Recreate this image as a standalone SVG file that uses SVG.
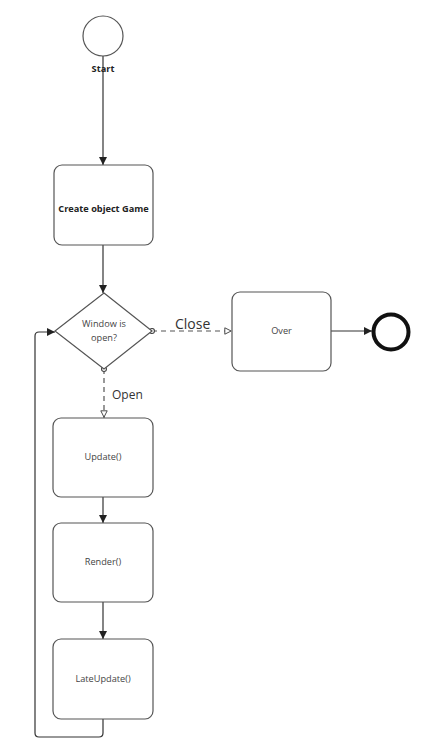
<svg xmlns="http://www.w3.org/2000/svg" width="424" height="756" viewBox="0 0 424 756">
<style>
.box{fill:#fff;stroke:#555;stroke-width:1.2}
.t{font-family:"Open Sans","Noto Sans",sans-serif;font-size:9.2px;fill:#444;text-anchor:middle}
.b{font-weight:bold;fill:#222}
.ln{fill:none;stroke:#333;stroke-width:1.2}
.dash{fill:none;stroke:#555;stroke-width:1.2;stroke-dasharray:5,4}
.lbl{font-family:"Open Sans","Noto Sans",sans-serif;fill:#333}
</style>
<defs>
<marker id="arr" viewBox="0 0 10 10" refX="10" refY="5" markerWidth="8" markerHeight="8" orient="auto" markerUnits="userSpaceOnUse"><path d="M0,0 L10,5 L0,10 Z" fill="#222"/></marker>
<marker id="open" viewBox="0 0 10 10" refX="10" refY="5" markerWidth="8" markerHeight="8" orient="auto" markerUnits="userSpaceOnUse"><path d="M1,1 L9,5 L1,9 Z" fill="#fff" stroke="#444" stroke-width="1.2"/></marker>
<marker id="dot" viewBox="0 0 10 10" refX="5" refY="5" markerWidth="7" markerHeight="7" orient="auto" markerUnits="userSpaceOnUse"><circle cx="5" cy="5" r="3.5" fill="#fff" stroke="#444" stroke-width="1.6"/></marker>
</defs>
<g id="connectors">
<path class="ln" d="M103,56 V165" marker-end="url(#arr)"/>
<path class="ln" d="M103,245 V293" marker-end="url(#arr)"/>
<path class="dash" d="M152,331 H232" marker-start="url(#dot)" marker-end="url(#open)"/>
<path class="dash" d="M104,369 V418" marker-start="url(#dot)" marker-end="url(#open)"/>
<path class="ln" d="M331,331 H372" marker-end="url(#arr)"/>
<path class="ln" d="M103,497 V523" marker-end="url(#arr)"/>
<path class="ln" d="M103,602 V639" marker-end="url(#arr)"/>
<path class="ln" d="M103,719 V733 Q103,737 99,737 H39 Q35,737 35,733 V336 Q35,332 39,332 H55" marker-end="url(#arr)"/>
<text class="lbl" x="175" y="329" font-size="14">Close</text>
<text class="lbl" x="112" y="399" font-size="12">Open</text>
</g>
<g id="start">
<circle cx="103" cy="36" r="20" fill="#fff" stroke="#555" stroke-width="1.2"/>
<text class="t b" x="103" y="72" font-size="8.5">Start</text>
</g>
<g id="create">
<rect class="box" x="54" y="165" width="99" height="80" rx="8"/>
<text class="t b" x="103.5" y="212">Create object Game</text>
</g>
<g id="decision">
<path class="box" d="M104,293 L152,331 L104,369 L55,331 Z"/>
<text class="t" x="104" y="327">Window is</text>
<text class="t" x="104" y="341">open?</text>
</g>
<g id="over">
<rect class="box" x="232" y="292" width="99" height="79" rx="8"/>
<text class="t" x="281.5" y="334">Over</text>
</g>
<g id="end">
<circle cx="391" cy="332" r="17.5" fill="#fff" stroke="#111" stroke-width="4"/>
</g>
<g id="update">
<rect class="box" x="53" y="418" width="100" height="79" rx="8"/>
<text class="t" x="103" y="460">Update()</text>
</g>
<g id="render">
<rect class="box" x="53" y="523" width="100" height="79" rx="8"/>
<text class="t" x="103" y="565">Render()</text>
</g>
<g id="late">
<rect class="box" x="53" y="639" width="100" height="80" rx="8"/>
<text class="t" x="103" y="682">LateUpdate()</text>
</g>
</svg>
